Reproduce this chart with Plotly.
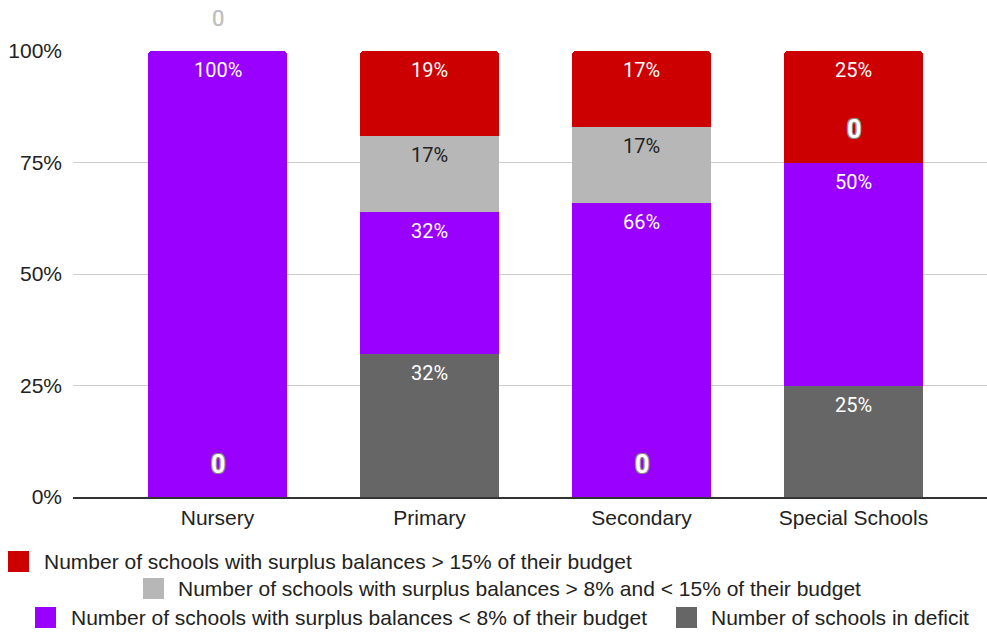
import plotly.graph_objects as go

# School phases and share of schools (%) in each balance band
schools = ["Nursery", "Primary", "Secondary", "Special Schools"]
deficit = [0, 32, 0, 25]
surplus_under_8 = [100, 32, 66, 50]
surplus_8_to_15 = [0, 17, 17, 0]
surplus_over_15 = [0, 19, 17, 25]

series_names = [
    "Number of schools in deficit",
    "Number of schools with surplus balances < 8% of their budget",
    "Number of schools with surplus balances > 8% and < 15% of their budget",
    "Number of schools with surplus balances > 15% of their budget",
]
series_values = [deficit, surplus_under_8, surplus_8_to_15, surplus_over_15]
series_colors = ["#666666", "#9900ff", "#b7b7b7", "#cc0000"]
label_colors = ["#ffffff", "#ffffff", "#222222", "#ffffff"]

y_ticks = [0, 25, 50, 75, 100]
y_tick_labels = [f"{v}%" for v in y_ticks]

W, H = 987, 632
M_L, M_R, M_T, M_B = 73, 0, 51, 135
PW, PH = W - M_L - M_R, H - M_T - M_B

fig = go.Figure()
for name, vals, col in zip(series_names, series_values, series_colors):
    fig.add_trace(go.Bar(
        x=list(range(len(schools))), y=vals, name=name,
        marker=dict(color=col, line=dict(width=0)),
        width=0.656, showlegend=False, hoverinfo="skip",
    ))

# Segment labels: inside the top of each segment, "0" for empty segments
annotations = []
outline = ("1px 1px 0 #888, -1px -1px 0 #888, 1px -1px 0 #888, -1px 1px 0 #888, "
           "0 1px 0 #888, 0 -1px 0 #888, 1px 0 0 #888, -1px 0 0 #888")
for j in range(len(schools)):
    top = 0
    for i, vals in enumerate(series_values):
        v = vals[j]
        top += v
        if v > 0:
            annotations.append(dict(
                x=j, y=top, xref="x", yref="y", text=f"{v}%", showarrow=False,
                yanchor="middle", yshift=-19,
                font=dict(family="Roboto, Arial", size=20, color=label_colors[i]),
            ))
        else:
            above = top >= 100
            annotations.append(dict(
                x=j, y=top, xref="x", yref="y", text="0", showarrow=False,
                yanchor="middle", yshift=33,
                font=dict(family="Roboto, Arial", size=22 if above else 25,
                          color="#c0c0c0" if above else "#ffffff",
                          weight="normal" if above else "bold",
                          shadow="none" if above else outline),
            ))

# Legend drawn as swatches and labels laid out in three rows
legend_rows = [
    # (series index, swatch left px, swatch top px, text left px, row centre px)
    (3, 8, 551, 42, 561.5),
    (2, 143, 578, 176, 588.5),
    (1, 35, 607, 69, 617),
    (0, 676, 607, 709, 617),
]
shapes = []
for idx, sx, sy, tx, cy in legend_rows:
    x0 = (sx - M_L) / PW
    x1 = (sx + 21 - M_L) / PW
    y0 = (H - M_B - sy) / PH
    y1 = (H - M_B - sy - 21) / PH
    shapes.append(dict(type="rect", xref="paper", yref="paper",
                       x0=x0, x1=x1, y0=y1, y1=y0,
                       fillcolor=series_colors[idx], line=dict(width=0)))
    annotations.append(dict(
        x=(tx - M_L) / PW, y=(H - M_B - cy) / PH, xref="paper", yref="paper",
        text=series_names[idx], showarrow=False, xanchor="left", yanchor="middle",
        font=dict(family="Arial", size=21, color="#222222"),
    ))

fig.update_layout(
    width=W, height=H,
    margin=dict(l=M_L, r=M_R, t=M_T, b=M_B),
    barmode="stack",
    barcornerradius=4,
    paper_bgcolor="#ffffff", plot_bgcolor="#ffffff",
    annotations=annotations, shapes=shapes,
    font=dict(family="Arial", size=21, color="#222222"),
    xaxis=dict(
        tickmode="array", tickvals=list(range(len(schools))), ticktext=schools,
        range=[-0.6816, 3.6297], showgrid=False, zeroline=False,
        showline=True, linecolor="#333333", linewidth=1.5,
        ticks="", ticklabelstandoff=1,
        tickfont=dict(family="Arial", size=21, color="#222222"),
    ),
    yaxis=dict(
        range=[0, 100], tickmode="array", tickvals=y_ticks, ticktext=y_tick_labels,
        showgrid=True, gridcolor="#cccccc", gridwidth=1, zeroline=False,
        showline=False, ticks="", ticklabelstandoff=10,
        tickfont=dict(family="Arial", size=21, color="#222222"),
    ),
)

fig.write_html("out.html")
